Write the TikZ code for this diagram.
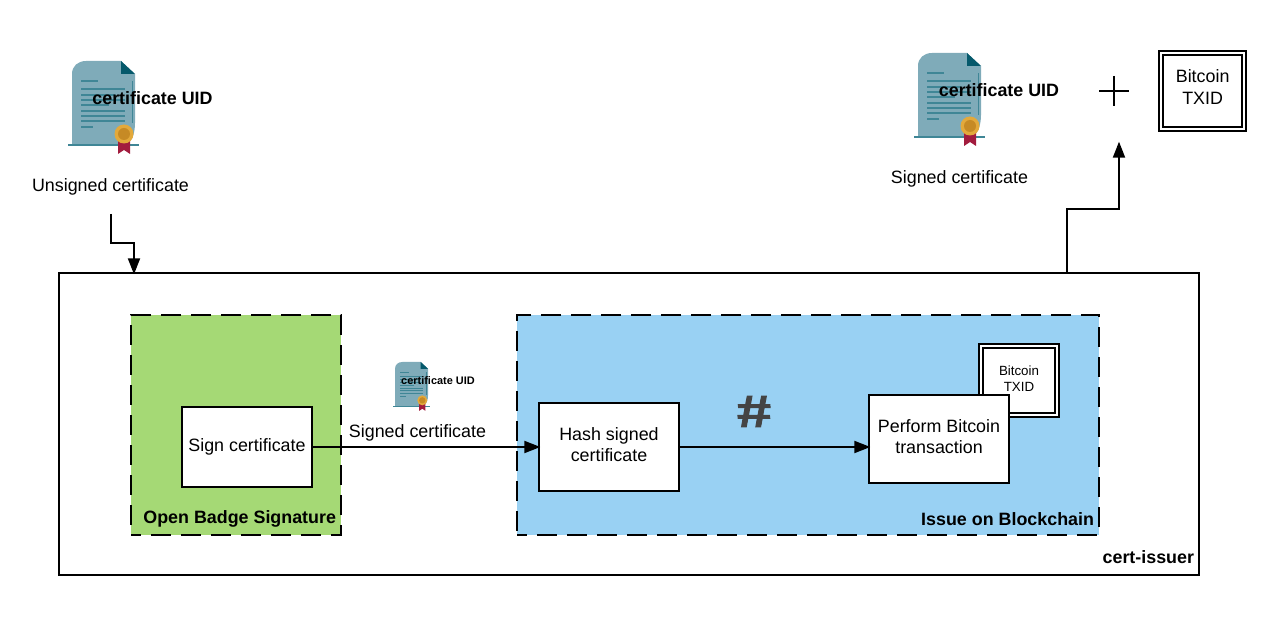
\documentclass[tikz,border=0pt]{standalone}
\usepackage{fontspec}
\setmainfont{Liberation Sans}
\newfontfamily\hashfont[FakeBold=1.5]{Liberation Sans Bold}
\usetikzlibrary{arrows.meta}

\definecolor{certbody}{HTML}{7FABB9}
\definecolor{certline}{HTML}{3F8696}
\definecolor{certfold}{HTML}{05596B}
\definecolor{certseal}{HTML}{E3A93B}
\definecolor{certsealin}{HTML}{C68A25}
\definecolor{certribbon}{HTML}{A21C3E}
\definecolor{sigbg}{HTML}{A5D975}
\definecolor{chainbg}{HTML}{99D1F3}
\definecolor{hashgrey}{HTML}{444444}

\tikzset{
  every node/.style={outer sep=0pt},
  flowbox/.style={draw=black,line width=1.5pt,fill=white,align=center,anchor=north west,inner sep=0pt,font=\fontsize{13.4}{16}\selectfont},
  twolines/.style={text depth=3.8pt},
  stagebox/.style={draw=black,line width=1.7pt,dash pattern=on 15pt off 7.5pt,dash phase=7.5pt,anchor=north west,inner sep=0pt},
  txidbox/.style={draw=black,double=white,line width=1.5pt,double distance=1.5pt,fill=white,align=center,anchor=north west,inner sep=0pt},
  bigtext/.style={font=\fontsize{13.4}{16}\selectfont,inner sep=0pt},
  boldtext/.style={font=\fontsize{13.4}{16}\selectfont\bfseries,inner sep=0pt},
  arrowline/.style={line width=1.5pt,-{Triangle[length=12pt,width=9pt]},shorten >=-1pt},
  certicon/.pic={
    \fill[certbody] (0,84) -- (0,13) .. controls (0,5) and (6,0) .. (14,0) -- (49,0) -- (63,13) -- (63,62) .. controls (63,72) and (60,84) .. (50,84) -- cycle;
    \fill[certfold] (49,0) -- (63,13) -- (49,13) -- cycle;
    \foreach \ly/\lw in {19.5/17,27/44,33/34,38.5/44,43.5/28,49/44,54/44,59.5/44,65/12}
      \fill[certline] (9,\ly) rectangle +(\lw,1.6);
    \fill[certline] (59.5,20) rectangle (61,62);
    \fill[certline] (-4,83.5) rectangle (67,85);
    \fill[certribbon] (46,78) -- (58,78) -- (58,93) -- (52,89) -- (46,93) -- cycle;
    \fill[certseal] (52,73) circle (9.5);
    \fill[certsealin] (52,73) circle (6);
  }
}

\begin{document}
\begin{tikzpicture}[x=0.75pt,y=-0.75pt]
  \useasboundingbox (0,0) rectangle (1275,620);

  % input certificate
  \pic at (72,61) {certicon};
  \node[boldtext] (uidin) at (152.5,98) {certificate UID};
  \node[bigtext] (unsigned) at (110.5,187) {Unsigned certificate};

  % output certificate
  \pic at (918,53) {certicon};
  \node[boldtext] (uidout) at (999,90) {certificate UID};
  \node[bigtext] (signedout) at (959.5,178.5) {Signed certificate};
  \coordinate (plus) at (1114,91);
  \draw[line width=1pt] (1099,91) -- (1129,91) (plus) ++(0,-15) -- ++(0,30);
  \node[txidbox,minimum width=62.5pt,minimum height=57pt,font=\fontsize{13.4}{16.5}\selectfont,text depth=6pt] (txidout) at (1161,53.5) {Bitcoin\\TXID};

  % cert-issuer
  \node[draw=black,line width=1.5pt,anchor=north west,inner sep=0pt,minimum width=855pt,minimum height=226.5pt] (issuer) at (59,273) {};
  \node[boldtext,anchor=east] (issuerlabel) at (1194,557) {cert-issuer};

  \node[stagebox,fill=sigbg,minimum width=157.5pt,minimum height=165pt] (signature) at (131,315) {};
  \node[boldtext,anchor=east] (signaturelabel) at (336,519) {Open Badge Signature};
  \node[stagebox,fill=chainbg,minimum width=436.5pt,minimum height=165pt] (blockchain) at (517,315) {};
  \node[boldtext,anchor=east] (blockchainlabel) at (1094,519) {Issue on Blockchain};

  \node[flowbox,minimum width=97.5pt,minimum height=60pt] (sign) at (182,407) {Sign certificate};
  \node[flowbox,twolines,minimum width=105pt,minimum height=66pt] (hash) at (539,403) {Hash signed\\certificate};
  \node[txidbox,minimum width=57pt,minimum height=52pt,font=\fontsize{10}{12}\selectfont,text depth=3pt] (txidin) at (981,346) {Bitcoin\\TXID};
  \node[flowbox,twolines,minimum width=105pt,minimum height=66pt] (perform) at (869,395) {Perform Bitcoin\\transaction};

  \pic[scale=0.525] at (395,362) {certicon};
  \node[boldtext,font=\fontsize{8.2}{10}\selectfont\bfseries] (uidmid) at (438,380.5) {certificate UID};
  \node[bigtext] (signedmid) at (417.5,433) {Signed certificate};
  \node[font=\hashfont\fontsize{34}{34}\selectfont,text=hashgrey,inner sep=0pt,xscale=1.4,xslant=-0.08] (hashmark) at (754,411.5) {\#};

  % connectors
  \coordinate (unsignedout) at (111,214);
  \coordinate (issuerin) at (134,273);
  \coordinate (issuerout) at (1067,273);
  \coordinate (plusin) at (1119,143);
  \draw[arrowline] (unsignedout) |- (122,243) -| (issuerin);
  \draw[arrowline] (issuerout) |- (1093,209) -| (plusin);
  \draw[arrowline] (sign.east) -- (hash.west);
  \draw[arrowline] (hash.east) -- (perform.west |- hash.east);
\end{tikzpicture}
\end{document}
